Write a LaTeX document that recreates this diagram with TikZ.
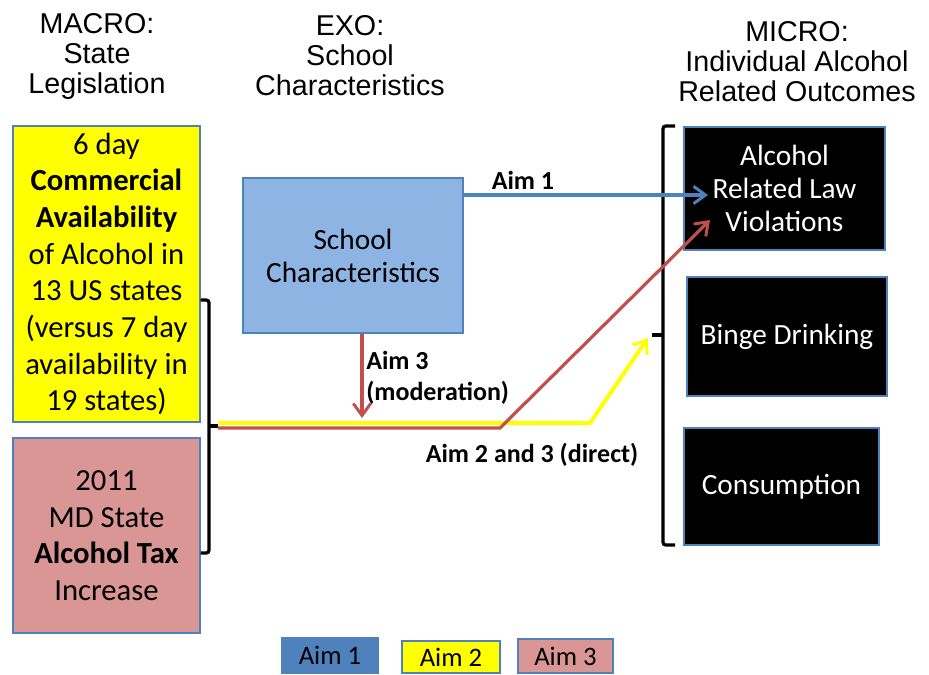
\documentclass[tikz,border=0pt]{standalone}
\usepackage{fontspec}
\setmainfont{Carlito}
\newfontfamily\arialf{Liberation Sans}
\usetikzlibrary{arrows.meta}
\definecolor{bordblue}{HTML}{4F81BD}
\definecolor{yelfill}{HTML}{FFFF00}
\definecolor{pinkfill}{HTML}{D99694}
\definecolor{schfill}{HTML}{8EB4E3}
\definecolor{aimred}{HTML}{C0504D}
\definecolor{aimblue}{HTML}{4F81BD}
\begin{document}
\begin{tikzpicture}[x=0.75pt,y=-0.75pt,
  box/.style={draw=bordblue, line width=0.8pt, inner sep=0pt, align=center, text=black},
  bigtxt/.style={font=\fontsize{23}{27.5}\selectfont},
  midtxt/.style={font=\fontsize{22}{24.75}\selectfont},
  blackbox/.style={box, fill=black, text=white, midtxt},
  title/.style={align=center, font=\arialf\fontsize{21.5}{22.5}\selectfont},
  lbl/.style={font=\bfseries\fontsize{19.5}{23}\selectfont, align=left, inner sep=0pt},
  legbox/.style={box, font=\fontsize{20}{22}\selectfont},
  brk/.style={draw=black, line width=2.4pt, rounded corners=2pt},
  tip/.style={-{Straight Barb[length=9pt,width=13pt,line width=2.2pt]}},
]
\useasboundingbox (0,0) rectangle (929,675);

% titles
\node[title] (t1) at (97,56) {MACRO:\\State\\Legislation};
\node[title] (t2) at (350,56) {EXO:\\School\\Characteristics};
\node[title] (t3) at (797,62) {MICRO:\\Individual Alcohol\\Related Outcomes};

% left boxes
\node[box, bigtxt, fill=yelfill, minimum width=140.25pt, minimum height=222pt] (yel) at (106.5,274)
  {6 day\\\textbf{Commercial}\\\textbf{Availability}\\of Alcohol in\\13 US states\\(versus 7 day\\availability in\\19 states)};
\node[box, bigtxt, fill=pinkfill, minimum width=140.25pt, minimum height=146.25pt] (pink) at (106.5,535.5)
  {2011\\MD State\\\textbf{Alcohol Tax}\\Increase};

% school box
\node[box, midtxt, fill=schfill, minimum width=165pt, minimum height=116.25pt] (sch) at (353,255.5)
  {School\\Characteristics};

% outcome boxes
\node[blackbox, minimum width=150.75pt, minimum height=92.25pt] (o1) at (784.5,188.5)
  {Alcohol\\Related Law\\Violations};
\node[blackbox, minimum width=150pt, minimum height=89.25pt] (o2) at (787,336.5)
  {Binge Drinking};
\node[blackbox, minimum width=146.25pt, minimum height=87.75pt] (o3) at (781.5,486.5)
  {Consumption};

% legend
\node[legbox, fill=aimblue, minimum width=72pt, minimum height=26.25pt] (l1) at (330,655.5) {Aim 1};
\node[legbox, fill=yelfill, minimum width=73.5pt, minimum height=24pt] (l2) at (451,657) {Aim 2};
\node[legbox, fill=pinkfill, minimum width=71.25pt, minimum height=25.5pt] (l3) at (565.5,656) {Aim 3};

% left bracket
\coordinate (lbt) at (209,300);
\coordinate (lbb) at (209,553);
\coordinate (lbm) at (218,426);
\draw[brk] (yel.east |- lbt) -- (lbt) -- (lbb) -- (pink.east |- lbb);
\draw[brk, rounded corners=0pt] (lbt |- lbm) -- (lbm);

% right bracket
\coordinate (rbt) at (663,126);
\coordinate (rbb) at (663,545);
\coordinate (rbm) at (652,335);
\draw[brk] ([xshift=9pt]rbt) -- (rbt) -- (rbb) -- ([xshift=9pt]rbb);
\draw[brk, rounded corners=0pt] (rbt |- rbm) -- (rbm);

% yellow path (Aim 2)
\coordinate (ys) at (218,423);
\coordinate (yb) at (590,423);
\coordinate (yt) at (648,338);
\draw[draw=yelfill, line width=3pt, tip] (ys) -- (yb) -- (yt);

% red path (Aim 2 and 3 direct)
\coordinate (rs) at (218,428);
\coordinate (rb) at (500,428);
\coordinate (rt) at (710,220);
\draw[draw=aimred, line width=2.4pt, tip] (rs) -- (rb) -- (rt);

% red moderation arrow
\coordinate (mt) at (362,418);
\draw[draw=aimred, line width=2.4pt, tip] (sch.south -| mt) -- (mt);

% blue Aim 1
\coordinate (bt) at (708,195);
\draw[draw=aimblue, line width=2.4pt, tip] (sch.east |- bt) -- (bt);

% labels
\node[lbl] (a1) at (523,180) {Aim 1};
\node[lbl, anchor=west] (a3) at (366,378) {Aim 3\\(moderation)};
\node[lbl] (a23) at (532,455) {Aim 2 and 3 (direct)};
\end{tikzpicture}
\end{document}
